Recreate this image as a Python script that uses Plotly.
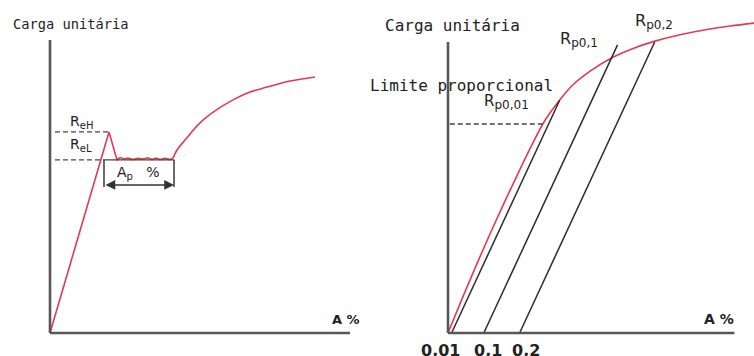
import plotly.graph_objects as go

# ---- Left diagram: yield point behaviour (strain in arbitrary %, load in arbitrary units)
# elastic line, upper yield peak and Lüders plateau
yield_strain = [0, 5.9, 6.7, 7.0, 7.4, 7.8, 8.3, 8.8, 9.3, 9.8, 10.2, 10.6, 11.0, 11.5, 12.0, 12.3]
yield_load = [0, 69.1, 59.5, 60.3, 59.8, 60.1, 59.6, 60.0, 59.8, 60.2, 59.6, 60.1, 59.6, 60.0, 59.6, 60.1]
# strain hardening after the plateau
hardening_strain = [12.3, 12.7, 13.5, 15.0, 16.5, 18.3, 20.0, 21.7, 24.0, 26.5]
hardening_load = [60.1, 62.9, 66.3, 72.2, 76.3, 80.1, 82.8, 84.5, 86.6, 88.0]
reh_load = 69.1          # upper yield strength level
rel_load = 59.5          # lower yield strength level
reh_strain = 5.9
rel_strain = 5.4
plateau_end = 12.4       # end of Lüders plateau (A_p)
ap_arrow_load = 50.9
bracket_bottom = 50.2
left_axis_x_end = 30.0
left_axis_y_end = 100.7

# ---- Right diagram: proof strength offsets (strain in %)
right_strain = [0, 0.04, 0.08, 0.12, 0.16, 0.20, 0.24, 0.268, 0.293, 0.318, 0.349, 0.397,
                0.458, 0.517, 0.578, 0.648, 0.723, 0.788, 0.855]
right_load = [0, 12.0, 23.6, 34.8, 45.6, 56.0, 66.0, 72.5, 77.0, 81.0, 85.3, 90.0,
              94.6, 97.8, 100.3, 102.5, 104.3, 105.5, 106.5]
offsets = [0.01, 0.1, 0.2]          # plastic strain offsets in %
offset_labels = ["0,01", "0,1", "0,2"]
offset_end_loads = [80.0, 99.0, 100.0]
modulus = 265.0                      # slope of the elastic line (load per %)
proportional_limit = 71.8
proportional_strain = 0.268
right_axis_x_end = 0.80
right_axis_y_end = 100.0

RED = "#e23a4f"
DARK = "#2b2b2b"
AXIS = "#575757"
MONO = "DejaVu Sans Mono"
SANS = "DejaVu Sans"

fig = go.Figure()

# stress-strain curves
fig.add_trace(go.Scatter(x=yield_strain, y=yield_load, mode="lines",
                         line=dict(color=RED, width=1.6), xaxis="x", yaxis="y"))
fig.add_trace(go.Scatter(x=hardening_strain, y=hardening_load, mode="lines",
                         line=dict(color=RED, width=1.6, shape="spline", smoothing=1.0),
                         xaxis="x", yaxis="y"))
fig.add_trace(go.Scatter(x=right_strain, y=right_load, mode="lines",
                         line=dict(color=RED, width=1.6, shape="spline", smoothing=1.0),
                         xaxis="x2", yaxis="y"))

# offset (proof strength) lines parallel to the elastic slope
for off, top in zip(offsets, offset_end_loads):
    fig.add_trace(go.Scatter(x=[off, off + top / modulus], y=[0, top], mode="lines",
                             line=dict(color=DARK, width=1.5), xaxis="x2", yaxis="y"))

shapes = []
# axes of both diagrams
for xr, xe, ye in (("x", left_axis_x_end, left_axis_y_end),
                   ("x2", right_axis_x_end, right_axis_y_end)):
    shapes.append(dict(type="line", xref=xr, yref="y", x0=0, x1=0, y0=0, y1=ye,
                       line=dict(color=AXIS, width=2.6)))
    shapes.append(dict(type="line", xref=xr, yref="y", x0=0, x1=xe, y0=0, y1=0,
                       line=dict(color=AXIS, width=2.6)))

# yield level dashes
shapes.append(dict(type="line", xref="x", yref="y", x0=0.5, x1=reh_strain, y0=reh_load, y1=reh_load,
                   line=dict(color="#444", width=1.4, dash="5px,3px")))
shapes.append(dict(type="line", xref="x", yref="y", x0=0.5, x1=rel_strain, y0=rel_load, y1=rel_load,
                   line=dict(color="#444", width=1.4, dash="5px,3px")))
# A_p bracket
shapes.append(dict(type="line", xref="x", yref="y", x0=rel_strain, x1=plateau_end, y0=rel_load, y1=rel_load,
                   line=dict(color="#444", width=1.4)))
for xb in (rel_strain, plateau_end):
    shapes.append(dict(type="line", xref="x", yref="y", x0=xb, x1=xb, y0=rel_load, y1=bracket_bottom,
                       line=dict(color="#444", width=1.6)))
# proportional limit dashes
shapes.append(dict(type="line", xref="x2", yref="y", x0=0.005, x1=proportional_strain,
                   y0=proportional_limit, y1=proportional_limit,
                   line=dict(color="#444", width=1.4, dash="5px,3px")))

annotations = []


def txt(text, x, y, xref, size, family=MONO, xanchor="center", weight="normal", xshift=0):
    annotations.append(dict(text=text, x=x, y=y, xref=xref, yref="y", showarrow=False,
                            xanchor=xanchor, yanchor="middle", xshift=xshift,
                            font=dict(family=family, size=size, color="#222", weight=weight)))


def sub(s, px):
    return "<sub><span style='font-size:%dpx;font-family:%s'>%s</span></sub>" % (px, SANS, s)


# left diagram labels
txt("Carga unitária", 2.0, 106.2, "x", 13.7)
txt("R" + sub("eH", 10), 1.8, 72.6, "x", 14, family=SANS, xanchor="left")
txt("R" + sub("eL", 10), 1.8, 64.6, "x", 14, family=SANS, xanchor="left")
txt("A" + sub("p", 10) + "&nbsp;&nbsp;&nbsp;%", 6.5, 55.0, "x", 14, family=SANS, xanchor="left")
txt("A %", 28.0, 4.8, "x", 13, family=SANS, xanchor="left", weight="bold")

# double-headed arrow for A_p
annotations.append(dict(x=plateau_end, y=ap_arrow_load, ax=rel_strain, ay=ap_arrow_load,
                        xref="x", yref="y", axref="x", ayref="y", text="", showarrow=True,
                        arrowhead=2, startarrowhead=2, arrowside="end+start",
                        arrowsize=1.3, startarrowsize=1.3, arrowwidth=1.5, arrowcolor="#333"))

# right diagram labels
txt("Carga unitária", 0.0112, 105.5, "x2", 16)
txt("Limite proporcional", 0.0377, 85.2, "x2", 16)
txt("R" + sub("p0,01", 12), 0.095, 79.5, "x2", 15, family=SANS, xanchor="left")
txt("R" + sub("p0,1", 12), 0.307, 101.0, "x2", 16, family=SANS, xanchor="left")
txt("R" + sub("p0,2", 12), 0.517, 106.9, "x2", 16, family=SANS, xanchor="left")
txt("A %", 0.7095, 4.8, "x2", 14, family=SANS, xanchor="left", weight="bold")

# offset strain tick labels
for off, lab, sh in zip(offsets, offset_labels, (-10.6, 4.2, 6.4)):
    txt(lab, off, -5.9, "x2", 16, family=SANS, weight="bold", xshift=sh)

fig.update_layout(
    width=754, height=356,
    margin=dict(l=0, r=0, t=0, b=0),
    paper_bgcolor="white", plot_bgcolor="white",
    showlegend=False,
    xaxis=dict(domain=[0, 0.5], range=[-5, 32.7], visible=False),
    xaxis2=dict(domain=[0.5, 1], range=[-0.1983, 0.8547], visible=False),
    yaxis=dict(domain=[0, 1], range=[-7.9, 114.43], visible=False),
    shapes=shapes,
    annotations=annotations,
)

fig.write_html("out.html")
